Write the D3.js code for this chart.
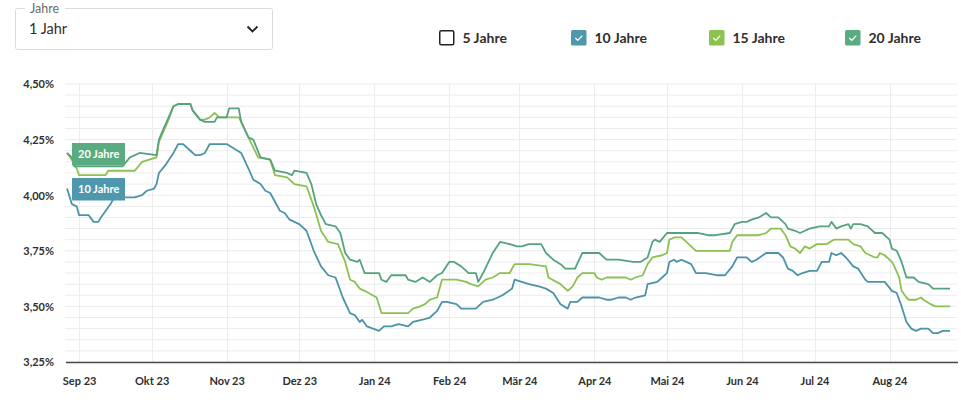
<!DOCTYPE html>
<html><head><meta charset="utf-8">
<script src="https://cdn.jsdelivr.net/npm/d3@7"></script>
<style>
body{margin:0;background:#fff;font-family:Lato,"Open Sans",sans-serif;}
svg{display:block;}
</style></head>
<body><svg id="c" width="961" height="400"></svg>
<script>
// ---------- data ----------
const seriesNames = ["10 Jahre", "15 Jahre", "20 Jahre"];
const legendNames = ["5 Jahre", "10 Jahre", "15 Jahre", "20 Jahre"];
const yTickValues = [3.25, 3.5, 3.75, 4.0, 4.25, 4.5];
const yTickLabels = ["3,25%", "3,50%", "3,75%", "4,00%", "4,25%", "4,50%"];
const monthLabels = ["Sep 23","Okt 23","Nov 23","Dez 23","Jan 24","Feb 24","Mär 24","Apr 24","Mai 24","Jun 24","Jul 24","Aug 24"];
const dateRange = ["2023-08-27", "2024-08-26"];

const rate10 = [
["2023-08-27",4.03],["2023-08-29",3.96],["2023-08-31",3.95],["2023-09-01",3.91],["2023-09-05",3.91],
["2023-09-07",3.88],["2023-09-09",3.88],["2023-09-10",3.90],["2023-09-12",3.93],["2023-09-14",3.96],
["2023-09-15",3.98],["2023-09-20",3.99],["2023-09-24",3.99],["2023-09-27",4.00],["2023-09-29",4.02],
["2023-10-02",4.03],["2023-10-03",4.05],["2023-10-04",4.10],["2023-10-07",4.14],["2023-10-10",4.19],
["2023-10-12",4.23],["2023-10-14",4.23],["2023-10-17",4.20],["2023-10-19",4.18],["2023-10-21",4.18],
["2023-10-23",4.19],["2023-10-25",4.23],["2023-10-28",4.23],["2023-11-01",4.23],["2023-11-04",4.21],
["2023-11-07",4.19],["2023-11-10",4.12],["2023-11-12",4.07],["2023-11-15",4.05],["2023-11-17",4.02],
["2023-11-19",4.01],["2023-11-23",3.93],["2023-11-25",3.92],["2023-11-27",3.89],["2023-12-01",3.87],
["2023-12-04",3.84],["2023-12-07",3.75],["2023-12-10",3.68],["2023-12-13",3.64],["2023-12-16",3.63],
["2023-12-19",3.54],["2023-12-22",3.47],["2023-12-24",3.46],["2023-12-26",3.43],["2023-12-27",3.44],
["2023-12-29",3.41],["2024-01-03",3.39],["2024-01-05",3.41],["2024-01-08",3.41],["2024-01-11",3.42],
["2024-01-15",3.41],["2024-01-17",3.43],["2024-01-21",3.44],["2024-01-24",3.45],["2024-01-27",3.48],
["2024-01-29",3.52],["2024-01-31",3.52],["2024-02-04",3.51],["2024-02-06",3.49],["2024-02-12",3.49],
["2024-02-15",3.52],["2024-02-19",3.53],["2024-02-23",3.55],["2024-02-27",3.58],["2024-02-28",3.62],
["2024-03-02",3.61],["2024-03-05",3.60],["2024-03-09",3.59],["2024-03-12",3.58],["2024-03-15",3.56],
["2024-03-18",3.51],["2024-03-21",3.49],["2024-03-22",3.52],["2024-03-25",3.52],["2024-03-27",3.54],
["2024-04-03",3.54],["2024-04-06",3.53],["2024-04-08",3.53],["2024-04-11",3.54],["2024-04-14",3.54],
["2024-04-16",3.53],["2024-04-18",3.54],["2024-04-22",3.55],["2024-04-23",3.60],["2024-04-27",3.61],
["2024-04-29",3.63],["2024-05-01",3.65],["2024-05-02",3.70],["2024-05-04",3.71],["2024-05-05",3.70],
["2024-05-07",3.71],["2024-05-09",3.70],["2024-05-11",3.69],["2024-05-13",3.65],["2024-05-17",3.65],
["2024-05-22",3.64],["2024-05-25",3.64],["2024-05-28",3.68],["2024-05-30",3.72],["2024-06-03",3.72],
["2024-06-05",3.70],["2024-06-07",3.71],["2024-06-11",3.74],["2024-06-16",3.74],["2024-06-18",3.72],
["2024-06-20",3.67],["2024-06-22",3.66],["2024-06-24",3.64],["2024-06-26",3.65],["2024-06-29",3.66],
["2024-07-02",3.66],["2024-07-04",3.70],["2024-07-07",3.70],["2024-07-08",3.74],["2024-07-10",3.73],
["2024-07-12",3.74],["2024-07-14",3.72],["2024-07-17",3.68],["2024-07-19",3.67],["2024-07-22",3.62],
["2024-07-23",3.61],["2024-07-30",3.61],["2024-08-02",3.57],["2024-08-04",3.56],["2024-08-06",3.50],
["2024-08-08",3.43],["2024-08-10",3.40],["2024-08-12",3.39],["2024-08-14",3.40],["2024-08-17",3.40],
["2024-08-19",3.38],["2024-08-21",3.38],["2024-08-23",3.39],["2024-08-26",3.39]
];

const rate15 = [
["2023-08-27",4.19],["2023-08-29",4.16],["2023-08-31",4.12],["2023-09-01",4.09],["2023-09-05",4.09],
["2023-09-12",4.09],["2023-09-13",4.11],["2023-09-21",4.11],["2023-09-24",4.11],["2023-09-27",4.15],
["2023-09-30",4.16],["2023-10-03",4.17],["2023-10-04",4.24],["2023-10-06",4.29],["2023-10-08",4.34],
["2023-10-10",4.40],["2023-10-12",4.41],["2023-10-17",4.41],["2023-10-18",4.38],["2023-10-21",4.34],
["2023-10-23",4.34],["2023-10-25",4.35],["2023-10-27",4.37],["2023-10-28",4.36],["2023-10-29",4.35],
["2023-11-06",4.35],["2023-11-07",4.33],["2023-11-10",4.26],["2023-11-14",4.17],["2023-11-19",4.16],
["2023-11-21",4.09],["2023-11-26",4.08],["2023-11-29",4.05],["2023-12-04",4.04],["2023-12-07",3.95],
["2023-12-10",3.84],["2023-12-13",3.79],["2023-12-17",3.78],["2023-12-20",3.70],["2023-12-22",3.62],
["2023-12-24",3.61],["2023-12-26",3.58],["2023-12-28",3.57],["2024-01-02",3.54],["2024-01-04",3.47],
["2024-01-15",3.47],["2024-01-17",3.49],["2024-01-20",3.50],["2024-01-22",3.51],["2024-01-24",3.53],
["2024-01-27",3.54],["2024-01-29",3.62],["2024-02-04",3.62],["2024-02-08",3.61],["2024-02-10",3.60],
["2024-02-13",3.59],["2024-02-16",3.62],["2024-02-19",3.63],["2024-02-22",3.65],["2024-02-26",3.65],
["2024-02-28",3.69],["2024-03-05",3.69],["2024-03-12",3.68],["2024-03-13",3.63],["2024-03-18",3.60],
["2024-03-21",3.57],["2024-03-23",3.59],["2024-03-25",3.63],["2024-03-27",3.65],["2024-04-01",3.65],
["2024-04-02",3.63],["2024-04-04",3.62],["2024-04-06",3.63],["2024-04-14",3.63],["2024-04-16",3.62],
["2024-04-18",3.63],["2024-04-21",3.64],["2024-04-23",3.69],["2024-04-25",3.72],["2024-04-29",3.73],
["2024-05-01",3.74],["2024-05-02",3.80],["2024-05-04",3.81],["2024-05-07",3.81],["2024-05-09",3.79],
["2024-05-13",3.75],["2024-05-27",3.75],["2024-05-28",3.79],["2024-05-30",3.82],["2024-06-08",3.82],
["2024-06-11",3.83],["2024-06-13",3.85],["2024-06-17",3.85],["2024-06-19",3.82],["2024-06-21",3.77],
["2024-06-23",3.76],["2024-06-25",3.74],["2024-06-27",3.77],["2024-06-29",3.76],["2024-07-02",3.78],
["2024-07-06",3.78],["2024-07-09",3.80],["2024-07-15",3.80],["2024-07-17",3.78],["2024-07-20",3.77],
["2024-07-22",3.74],["2024-07-24",3.73],["2024-07-26",3.72],["2024-07-27",3.72],["2024-07-28",3.74],
["2024-07-30",3.73],["2024-08-02",3.70],["2024-08-03",3.68],["2024-08-05",3.63],["2024-08-06",3.57],
["2024-08-08",3.54],["2024-08-09",3.53],["2024-08-12",3.53],["2024-08-14",3.54],["2024-08-15",3.53],
["2024-08-18",3.51],["2024-08-20",3.50],["2024-08-26",3.50]
];

const rate20 = [
["2023-08-27",4.19],["2023-08-29",4.17],["2023-08-30",4.13],["2023-09-05",4.13],["2023-09-13",4.13],
["2023-09-19",4.13],["2023-09-22",4.17],["2023-09-26",4.19],["2023-10-03",4.18],["2023-10-04",4.25],
["2023-10-06",4.30],["2023-10-08",4.35],["2023-10-10",4.40],["2023-10-12",4.41],["2023-10-17",4.41],
["2023-10-18",4.38],["2023-10-21",4.34],["2023-10-23",4.33],["2023-10-27",4.33],["2023-10-28",4.35],
["2023-11-01",4.35],["2023-11-02",4.39],["2023-11-06",4.39],["2023-11-07",4.33],["2023-11-10",4.26],
["2023-11-12",4.25],["2023-11-15",4.17],["2023-11-19",4.16],["2023-11-21",4.11],["2023-11-26",4.10],
["2023-11-28",4.09],["2023-11-29",4.11],["2023-12-04",4.10],["2023-12-06",4.05],["2023-12-08",3.96],
["2023-12-10",3.91],["2023-12-12",3.87],["2023-12-16",3.86],["2023-12-18",3.83],["2023-12-20",3.74],
["2023-12-22",3.71],["2023-12-25",3.70],["2023-12-26",3.71],["2023-12-28",3.65],["2024-01-03",3.65],
["2024-01-04",3.62],["2024-01-06",3.61],["2024-01-08",3.64],["2024-01-14",3.64],["2024-01-15",3.62],
["2024-01-18",3.61],["2024-01-21",3.63],["2024-01-24",3.61],["2024-01-27",3.64],["2024-01-29",3.65],
["2024-02-01",3.70],["2024-02-03",3.70],["2024-02-06",3.68],["2024-02-09",3.65],["2024-02-12",3.65],
["2024-02-13",3.61],["2024-02-15",3.65],["2024-02-19",3.74],["2024-02-22",3.79],["2024-02-26",3.78],
["2024-02-29",3.77],["2024-03-02",3.77],["2024-03-05",3.78],["2024-03-10",3.78],["2024-03-12",3.74],
["2024-03-15",3.71],["2024-03-18",3.69],["2024-03-20",3.67],["2024-03-24",3.67],["2024-03-27",3.74],
["2024-04-03",3.74],["2024-04-06",3.71],["2024-04-11",3.71],["2024-04-17",3.70],["2024-04-20",3.70],
["2024-04-23",3.72],["2024-04-25",3.79],["2024-04-26",3.80],["2024-04-28",3.79],["2024-05-01",3.83],
["2024-05-06",3.83],["2024-05-07",3.83],["2024-05-14",3.83],["2024-05-18",3.82],["2024-05-21",3.82],
["2024-05-27",3.83],["2024-05-29",3.87],["2024-06-01",3.88],["2024-06-03",3.88],["2024-06-05",3.89],
["2024-06-08",3.90],["2024-06-11",3.92],["2024-06-13",3.90],["2024-06-16",3.90],["2024-06-19",3.87],
["2024-06-20",3.85],["2024-06-23",3.84],["2024-06-25",3.83],["2024-06-27",3.84],["2024-06-29",3.85],
["2024-07-03",3.86],["2024-07-07",3.86],["2024-07-08",3.88],["2024-07-10",3.85],["2024-07-12",3.86],
["2024-07-15",3.87],["2024-07-16",3.85],["2024-07-17",3.87],["2024-07-20",3.87],["2024-07-23",3.86],
["2024-07-26",3.83],["2024-07-29",3.83],["2024-08-01",3.80],["2024-08-02",3.76],["2024-08-04",3.75],
["2024-08-06",3.70],["2024-08-08",3.63],["2024-08-11",3.63],["2024-08-13",3.61],["2024-08-17",3.60],
["2024-08-19",3.58],["2024-08-26",3.58]
];

// ---------- setup ----------
const parse = d3.timeParse("%Y-%m-%d");
const svg = d3.select("#c");
const colors = {"5 Jahre":"#ffffff","10 Jahre":"#4f97ad","15 Jahre":"#8cc34f","20 Jahre":"#5aab80"};
const lineColors = {"10 Jahre":"#4d93a8","15 Jahre":"#8cc152","20 Jahre":"#55a27f"};
const textColor = "#2f2f2f";

const x = d3.scaleTime().domain(dateRange.map(parse)).range([67, 950]);
const y = d3.scaleLinear().domain([3.25, 4.5]).range([362, 84]);

// ---------- dropdown ----------
const dd = svg.append("g");
dd.append("rect").attr("x",15.5).attr("y",8.5).attr("width",257).attr("height",41).attr("rx",2)
  .attr("fill","#fff").attr("stroke","#dcdcdc");
dd.append("rect").attr("x",25).attr("y",5).attr("width",40).attr("height",8).attr("fill","#fff");
dd.append("text").attr("x",30).attr("y",13).attr("font-size",12.5).attr("fill","#6b6b6b").text("Jahre");
dd.append("text").attr("x",29).attr("y",34).attr("font-size",14.5).attr("fill",textColor).text("1 Jahr");
dd.append("path").attr("d","M247.5,26.5 L252.5,31.5 L257.5,26.5").attr("fill","none")
  .attr("stroke","#222").attr("stroke-width",1.8);

// ---------- legend ----------
const legX = [439, 571, 709, 845];
const lg = svg.append("g");
legendNames.forEach((n,i)=>{
  const g = lg.append("g").attr("transform",`translate(${legX[i]},30)`);
  if (n === "5 Jahre") {
    g.append("rect").attr("x",0.75).attr("y",0.75).attr("width",14).attr("height",14).attr("rx",1.5)
      .attr("fill","#fff").attr("stroke","#222").attr("stroke-width",1.5);
  } else {
    g.append("rect").attr("width",15.5).attr("height",15.5).attr("rx",1.5).attr("fill",colors[n]);
    g.append("path").attr("d","M4.3,8 L6.8,10.4 L11.2,5.6").attr("fill","none")
      .attr("stroke","#fff").attr("stroke-width",1.3);
  }
  g.append("text").attr("x",23.5).attr("y",13).attr("font-size",14).attr("font-weight",700)
    .attr("fill",textColor).text(n);
});

// ---------- grid ----------
const grid = svg.append("g");
const gridVals = d3.range(0, 26).map(i => 3.25 + i*0.05);
grid.selectAll("line.h").data(gridVals).join("line").attr("class","h")
  .attr("x1",65).attr("x2",957).attr("y1",d=>y(d)).attr("y2",d=>y(d))
  .attr("stroke","#ececec").attr("stroke-width",1);
const months = d3.timeMonth.range(parse("2023-09-01"), parse("2024-08-26"));
grid.selectAll("line.v").data(months).join("line").attr("class","v")
  .attr("x1",d=>Math.round(x(d))+0.5).attr("x2",d=>Math.round(x(d))+0.5)
  .attr("y1",y(4.5)).attr("y2",362)
  .attr("stroke","#ececec").attr("stroke-width",1);

// ---------- axes ----------
const yAxis = d3.axisLeft(y).tickValues(yTickValues)
  .tickFormat((d,i)=>yTickLabels[i]).tickSize(0).tickPadding(0);
const yg = svg.append("g").attr("transform","translate(54,0)").call(yAxis);
yg.select(".domain").remove();
yg.selectAll("text").attr("font-size",11).attr("font-weight",700).attr("fill",textColor)
  .attr("font-family","Lato, sans-serif").attr("dy","0.35em");

const xAxis = d3.axisBottom(x).tickValues(months)
  .tickFormat((d,i)=>monthLabels[i]).tickSize(0).tickPadding(0);
const xg = svg.append("g").attr("transform","translate(0,362)").call(xAxis);
xg.select(".domain").remove();
xg.selectAll("text").attr("font-size",11).attr("font-weight",700).attr("fill",textColor)
  .attr("font-family","Lato, sans-serif").attr("y",15).attr("dy","0.71em");
svg.append("line").attr("x1",66).attr("x2",958).attr("y1",362.5).attr("y2",362.5)
  .attr("stroke","#4a4a4a").attr("stroke-width",1.5);

// ---------- lines ----------
const line = d3.line().x(d=>x(parse(d[0]))).y(d=>y(d[1])).curve(d3.curveLinear);
const seriesData = {"10 Jahre": rate10, "15 Jahre": rate15, "20 Jahre": rate20};
["15 Jahre","10 Jahre","20 Jahre"].forEach(n=>{
  svg.append("path").datum(seriesData[n]).attr("d",line).attr("fill","none")
    .attr("stroke",lineColors[n]).attr("stroke-width",1.8).attr("stroke-linejoin","round");
});

// ---------- flags ----------
const flagNames = ["20 Jahre","10 Jahre"];
const flagY = [143, 178];
flagNames.forEach((n,i)=>{
  const g = svg.append("g").attr("transform",`translate(72,${flagY[i]})`);
  g.append("rect").attr("width",53).attr("height",22.5).attr("fill",colors[n]);
  g.append("text").attr("x",6).attr("y",15).attr("font-size",11).attr("font-weight",700)
    .attr("fill","#fff").text(n);
});
</script></body></html>
